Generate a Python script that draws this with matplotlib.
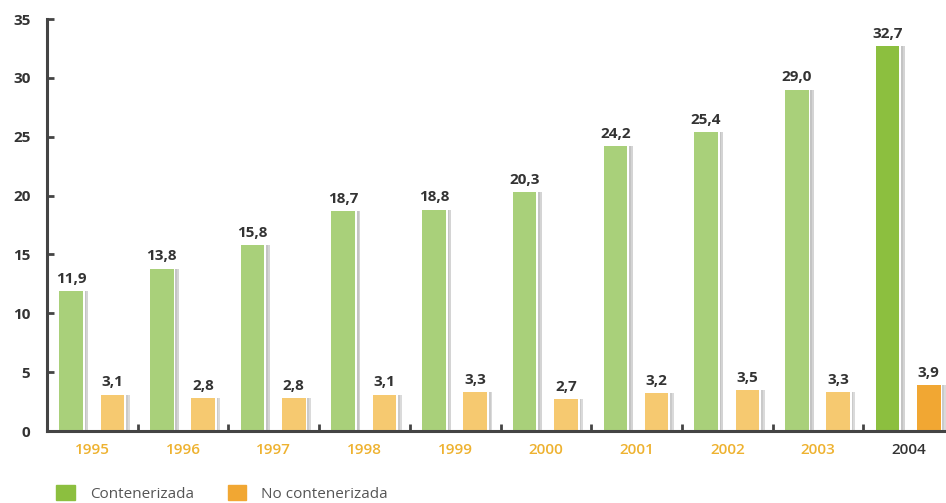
# Tráfico contenerizado vs no contenerizado, 1995-2004
import matplotlib.pyplot as plt
import matplotlib.patches as mpatches
import numpy as np

plt.rcParams['font.family'] = ['Open Sans', 'DejaVu Sans']

years = ['1995', '1996', '1997', '1998', '1999', '2000', '2001', '2002', '2003', '2004']
contenerizada = [11.9, 13.8, 15.8, 18.7, 18.8, 20.3, 24.2, 25.4, 29.0, 32.7]
no_contenerizada = [3.1, 2.8, 2.8, 3.1, 3.3, 2.7, 3.2, 3.5, 3.3, 3.9]

green_light = '#a9d07a'
green_dark = '#8cbf3f'
orange_light = '#f6c970'
orange_dark = '#f1a733'
year_color = '#eeb230'
dark = '#333333'

fig = plt.figure(figsize=(9.46, 5.03), dpi=100)
ax = fig.add_axes([0.0497, 0.1431, 0.9503, 0.819])

x = np.arange(len(years))
w = 0.26
pos_g = x + 0.265
pos_o = x + 0.72
n = len(years)
cols_g = [green_light] * (n - 1) + [green_dark]
cols_o = [orange_light] * (n - 1) + [orange_dark]

# shadows behind bars
ax.bar(pos_g + 0.06, contenerizada, w, color='#d4d4d4', zorder=1)
ax.bar(pos_o + 0.06, no_contenerizada, w, color='#dadada', zorder=1)
ax.bar(pos_g + 0.04, contenerizada, w, color='#c4c4c4', zorder=1.2)
ax.bar(pos_o + 0.04, no_contenerizada, w, color='#cacaca', zorder=1.2)
ax.bar(pos_g + 0.02, contenerizada, w, color='white', zorder=1.5)
ax.bar(pos_o + 0.02, no_contenerizada, w, color='white', zorder=1.5)
ax.bar(pos_g, contenerizada, w, color=cols_g, zorder=2)
ax.bar(pos_o, no_contenerizada, w, color=cols_o, zorder=2)

for xi, v in zip(pos_g, contenerizada):
    ax.text(xi, v + 0.45, f'{v:.1f}'.replace('.', ','), ha='center', va='bottom',
            fontsize=11, fontweight='bold', color=dark)
for xi, v in zip(pos_o, no_contenerizada):
    ax.text(xi, v + 0.45, f'{v:.1f}'.replace('.', ','), ha='center', va='bottom',
            fontsize=11, fontweight='bold', color=dark)

ax.set_xlim(0, 9.91)
ax.set_ylim(0, 35)
ax.set_yticks(range(0, 36, 5))
ax.tick_params(axis='y', direction='in', length=5, width=2, color='#444444',
               labelsize=11, labelcolor=dark, pad=12)
for lbl in ax.get_yticklabels():
    lbl.set_fontweight('bold')

ax.set_xticks(np.arange(1, n))
ax.set_xticklabels([])
ax.tick_params(axis='x', direction='in', length=5, width=2, color='#444444')

for i, yr in enumerate(years):
    ax.text(i + 0.5, -1.6, yr, ha='center', va='center', fontsize=11,
            fontweight='semibold', color=dark if i == n - 1 else year_color)

for s in ['top', 'right']:
    ax.spines[s].set_visible(False)
ax.spines['left'].set_linewidth(2.2)
ax.spines['bottom'].set_linewidth(2.2)
ax.spines['left'].set_color('#444444')
ax.spines['bottom'].set_color('#444444')

handles = [mpatches.Patch(color=green_dark, label='Contenerizada'),
           mpatches.Patch(color=orange_dark, label='No contenerizada')]
fig.legend(handles=handles, loc='lower left', bbox_to_anchor=(0.045, -0.025),
           ncol=2, frameon=False, fontsize=11, handlelength=1.2, handleheight=1.2,
           handletextpad=1.0, columnspacing=2.2, labelcolor='#555555')

fig.savefig('out.png', dpi=100)
